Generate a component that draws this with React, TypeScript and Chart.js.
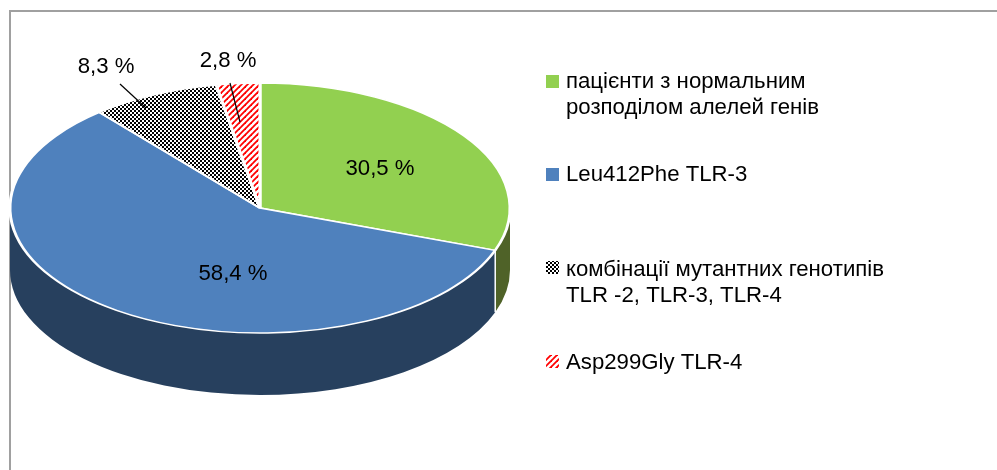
import React, { useEffect, useRef } from "react";
import { Chart, registerables } from "chart.js";

Chart.register(...registerables);

const categories: string[][] = [
  ["пацієнти з нормальним", "розподілом алелей генів"],
  ["Leu412Phe TLR-3"],
  ["комбінації мутантних генотипів", "TLR -2, TLR-3, TLR-4"],
  ["Asp299Gly TLR-4"],
];
const values = [30.5, 58.4, 8.3, 2.8];
const valueLabels = ["30,5 %", "58,4 %", "8,3 %", "2,8 %"];

const FONT = '22.2px "Liberation Sans", Arial, sans-serif';
const SQUASH = 0.5;
const DEPTH = 62;
const sideColors = ["#4F6228", "#27405E", "#1a1a1a", "#7f0000"];
// label centres and leader lines, relative to the pie centre
const labelOffsets = [[120, -39], [-27, 66], [-154, -141], [-32, -147]];
const leaders: (number[] | null)[] = [null, null, [-140, -124, -114, -100], [-30, -125, -20, -86]];
const legendTextY = [82, 175, 270, 363];
const legendBoxY = [75, 168, 261, 355];
const LEGEND_BOX_X = 546;
const LEGEND_TEXT_X = 566;
const LEGEND_LINE = 26;

function makeTile(size: number, paint: (c: CanvasRenderingContext2D) => void) {
  const t = document.createElement("canvas");
  t.width = size;
  t.height = size;
  const c = t.getContext("2d")!;
  paint(c);
  return t;
}
function checker() {
  return makeTile(4, (c) => {
    c.fillStyle = "#fff";
    c.fillRect(0, 0, 4, 4);
    c.fillStyle = "#000";
    c.fillRect(0, 0, 2, 2);
    c.fillRect(2, 2, 2, 2);
  });
}
function stripes() {
  return makeTile(6, (c) => {
    c.fillStyle = "#fff";
    c.fillRect(0, 0, 6, 6);
    c.strokeStyle = "#FF0000";
    c.lineWidth = 1.8;
    for (let i = -6; i <= 12; i += 6) {
      c.beginPath();
      c.moveTo(i - 1, 7);
      c.lineTo(i + 7, -1);
      c.stroke();
    }
  });
}

const pie3d = {
  id: "pie3d",
  beforeDatasetsDraw(chart: any) {
    const { ctx } = chart;
    // chart frame
    ctx.save();
    ctx.strokeStyle = "#A0A0A0";
    ctx.lineWidth = 2;
    ctx.beginPath();
    ctx.moveTo(10, 470);
    ctx.lineTo(10, 11);
    ctx.lineTo(997, 11);
    ctx.stroke();
    ctx.restore();

    const arcs = chart.getDatasetMeta(0).data;
    const cx = arcs[0].x;
    const cy = arcs[0].y;
    const rx = arcs[0].outerRadius;
    const ry = rx * SQUASH;
    // side wall: only the part of each slice that faces the viewer
    arcs.forEach((arc: any, i: number) => {
      const s = Math.max(arc.startAngle, 0);
      const e = Math.min(arc.endAngle, Math.PI);
      if (e <= s) return;
      ctx.save();
      ctx.fillStyle = sideColors[i];
      ctx.beginPath();
      ctx.ellipse(cx, cy, rx, ry, 0, s, e);
      ctx.ellipse(cx, cy + DEPTH, rx, ry, 0, e, s, true);
      ctx.closePath();
      ctx.fill();
      ctx.restore();
      if (s > 0.001) {
        ctx.save();
        ctx.strokeStyle = "#FFFFFF";
        ctx.lineWidth = 1.5;
        const x = cx + rx * Math.cos(s);
        const y = cy + ry * Math.sin(s);
        ctx.beginPath();
        ctx.moveTo(x, y);
        ctx.lineTo(x, y + DEPTH);
        ctx.stroke();
        ctx.restore();
      }
    });
    // squash the circular pie drawn by the library into an ellipse
    ctx.save();
    ctx.translate(cx, cy);
    ctx.scale(1, SQUASH);
    ctx.translate(-cx, -cy);
  },
  afterDatasetsDraw(chart: any) {
    const { ctx } = chart;
    ctx.restore();
    const arcs = chart.getDatasetMeta(0).data;
    const cx = arcs[0].x;
    const cy = arcs[0].y;
    ctx.save();
    ctx.font = FONT;
    ctx.fillStyle = "#000";
    ctx.textBaseline = "middle";
    ctx.textAlign = "center";
    valueLabels.forEach((t, i) => {
      ctx.fillText(t, cx + labelOffsets[i][0], cy + labelOffsets[i][1]);
    });
    ctx.strokeStyle = "#000";
    ctx.lineWidth = 1.2;
    leaders.forEach((l) => {
      if (!l) return;
      ctx.beginPath();
      ctx.moveTo(cx + l[0], cy + l[1]);
      ctx.lineTo(cx + l[2], cy + l[3]);
      ctx.stroke();
    });
    // legend
    ctx.textAlign = "left";
    const bg = chart.data.datasets[0].swatches;
    (chart.data.labels as string[][]).forEach((lines, i) => {
      ctx.fillStyle = bg[i];
      ctx.fillRect(LEGEND_BOX_X, legendBoxY[i], 13, 13);
      ctx.fillStyle = "#000";
      lines.forEach((line, j) => {
        ctx.fillText(line, LEGEND_TEXT_X, legendTextY[i] + j * LEGEND_LINE);
      });
    });
    ctx.restore();
  },
};

export default function App() {
  const ref = useRef<HTMLCanvasElement>(null);
  useEffect(() => {
    const canvas = ref.current!;
    const ctx = canvas.getContext("2d")!;
    const checkTile = checker();
    const stripeTile = stripes();
    const unsquash = new DOMMatrix().scale(1, 1 / SQUASH);
    const pCheck = ctx.createPattern(checkTile, "repeat")!;
    pCheck.setTransform(unsquash);
    const pStripe = ctx.createPattern(stripeTile, "repeat")!;
    pStripe.setTransform(unsquash);
    const swatchCheck = ctx.createPattern(checkTile, "repeat")!;
    const swatchStripe = ctx.createPattern(stripeTile, "repeat")!;
    const chart = new Chart(canvas, {
      type: "pie",
      data: {
        labels: categories,
        datasets: [
          {
            data: values,
            backgroundColor: ["#92D050", "#4F81BD", pCheck, pStripe],
            borderColor: "#FFFFFF",
            borderWidth: 3,
            swatches: ["#92D050", "#4F81BD", swatchCheck, swatchStripe],
          } as any,
        ],
      },
      options: {
        responsive: false,
        animation: false,
        radius: 250,
        rotation: 0,
        layout: { padding: { left: 0, top: 0, right: 477, bottom: 54 } },
        plugins: { legend: { display: false }, tooltip: { enabled: false } },
      } as any,
      plugins: [pie3d],
    });
    return () => chart.destroy();
  }, []);
  return (
    <div style={{ position: "fixed", left: 0, top: 0, width: 997, height: 470, background: "#fff" }}>
      <canvas ref={ref} width={997} height={470} style={{ display: "block" }} />
    </div>
  );
}
